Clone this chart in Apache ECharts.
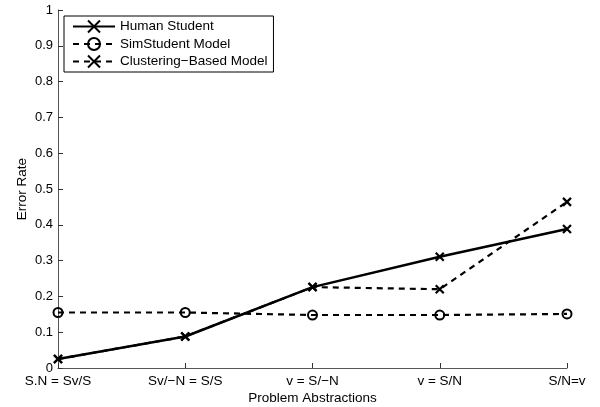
<!DOCTYPE html>
<html><head><meta charset="utf-8">
<script src="https://cdn.jsdelivr.net/npm/echarts@6/dist/echarts.min.js"></script>
<style>html,body{margin:0;padding:0;background:#fff}#c{width:600px;height:407px}</style>
</head><body><div id="c"></div>
<script>
var categories = ['S.N = Sv/S', 'Sv/\u2212N = S/S', 'v = S/\u2212N', 'v = S/N', 'S/N=v'];
var humanStudent = [0.025, 0.088, 0.226, 0.311, 0.388];
var simStudent = [0.155, 0.155, 0.148, 0.148, 0.151];
var clustering = [0.025, 0.088, 0.226, 0.220, 0.464];
var yTicks = [0, 0.1, 0.2, 0.3, 0.4, 0.5, 0.6, 0.7, 0.8, 0.9, 1];

var cross = 'path://M0,0L10,10M10,0L0,10';
var font = 'Liberation Sans, Arial, Helvetica, sans-serif';
var chart = echarts.init(document.getElementById('c'));
chart.setOption({
  animation: false,
  backgroundColor: '#fff',
  textStyle: {fontFamily: font},
  grid: {left: 58, right: 33, top: 10, bottom: 39, containLabel: false, outerBoundsMode: 'none'},
  legend: {
    left: 64, top: 16, orient: 'vertical',
    padding: [2, 6, 2, 8],
    itemGap: 2,
    itemWidth: 42, itemHeight: 15,
    borderColor: '#000', borderWidth: 1,
    backgroundColor: '#fff',
    textStyle: {fontFamily: font, fontSize: 13.5, color: '#000'},
    data: ['Human Student', 'SimStudent Model', 'Clustering\u2212Based Model']
  },
  xAxis: {
    type: 'category', data: categories, boundaryGap: false,
    name: 'Problem Abstractions', nameLocation: 'middle', nameGap: 23, nameMoveOverlap: false,
    nameTextStyle: {fontFamily: font, fontSize: 13.5, color: '#000'},
    axisLine: {lineStyle: {color: '#555', width: 1}},
    axisTick: {inside: true, length: 5, lineStyle: {color: '#333'}},
    axisLabel: {fontFamily: font, fontSize: 13.5, color: '#000', margin: 6},
    splitLine: {show: false}
  },
  yAxis: {
    type: 'value', min: 0, max: 1, interval: 0.1,
    name: 'Error Rate', nameLocation: 'middle', nameGap: 29, nameMoveOverlap: false,
    nameTextStyle: {fontFamily: font, fontSize: 13.5, color: '#000'},
    axisLine: {show: true, lineStyle: {color: '#555', width: 1}},
    axisTick: {show: true, inside: true, length: 5, lineStyle: {color: '#333'}},
    axisLabel: {fontFamily: font, fontSize: 13, color: '#000', margin: 5,
      formatter: function (v) { var s = yTicks.find(function(t){return Math.abs(t-v)<1e-9;}); return s === undefined ? '' : String(+s.toFixed(1)); }},
    splitLine: {show: false}
  },
  series: [
    {
      name: 'Clustering\u2212Based Model', type: 'line', data: clustering, z: 2,
      symbol: cross, symbolSize: 8,
      lineStyle: {color: '#000', width: 2.2, type: [6, 5]},
      itemStyle: {color: 'none', borderColor: '#000', borderWidth: 2.2}
    },
    {
      name: 'SimStudent Model', type: 'line', data: simStudent, z: 3,
      symbol: 'circle', symbolSize: 9,
      lineStyle: {color: '#000', width: 2.2, type: [6, 5]},
      itemStyle: {color: 'rgba(255,255,255,0)', borderColor: '#000', borderWidth: 2}
    },
    {
      name: 'Human Student', type: 'line', data: humanStudent, z: 4,
      symbol: cross, symbolSize: 8,
      lineStyle: {color: '#000', width: 2.5, type: 'solid'},
      itemStyle: {color: 'none', borderColor: '#000', borderWidth: 2.2}
    }
  ]
});
</script></body></html>
